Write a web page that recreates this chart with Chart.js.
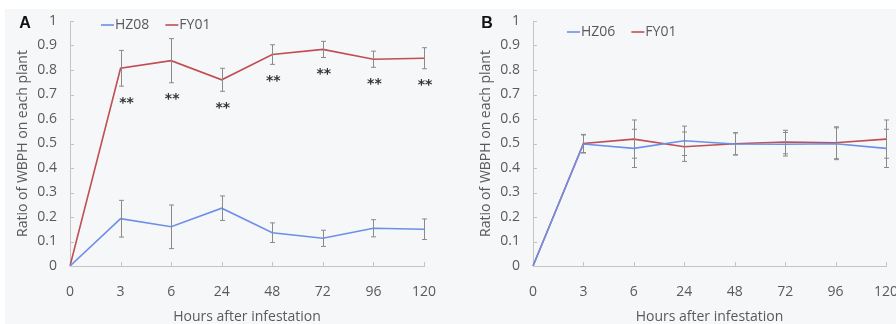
<!DOCTYPE html>
<html>
<head>
<meta charset="utf-8">
<script src="https://cdn.jsdelivr.net/npm/chart.js@4"></script>
<style>
  html, body { margin:0; padding:0; background:#ffffff; }
  body { width:896px; height:324px; position:relative; overflow:hidden; }
  #bg { position:absolute; left:5px; top:9px; width:891px; height:315px; background:#f6f7f9; }
  .wrap { position:absolute; top:0; height:324px; }
  #wa { left:0; width:450px; }
  #wb { left:448px; width:448px; }
</style>
</head>
<body>
<div id="bg"></div>
<div class="wrap" id="wa"><canvas id="ca"></canvas></div>
<div class="wrap" id="wb"><canvas id="cb"></canvas></div>
<script>
// ---- data ----
const hours = ['0', '3', '6', '24', '48', '72', '96', '120'];
const yTicks = [0, 0.1, 0.2, 0.3, 0.4, 0.5, 0.6, 0.7, 0.8, 0.9, 1];

// Panel A
const aSeriesNames = ['HZ08', 'FY01'];
const aHZ08 = [0, 0.193, 0.160, 0.236, 0.136, 0.113, 0.154, 0.150];
const aHZ08Err = [0, 0.075, 0.089, 0.050, 0.040, 0.033, 0.035, 0.042];
const aFY01 = [0, 0.807, 0.838, 0.760, 0.863, 0.884, 0.844, 0.848];
const aFY01Err = [0, 0.073, 0.090, 0.047, 0.040, 0.033, 0.033, 0.043];
const aSignif = ['', '**', '**', '**', '**', '**', '**', '**'];

// Panel B
const bSeriesNames = ['HZ06', 'FY01'];
const bHZ06 = [0, 0.498, 0.480, 0.511, 0.498, 0.497, 0.499, 0.480];
const bHZ06Err = [0, 0.037, 0.078, 0.060, 0.045, 0.048, 0.065, 0.078];
const bFY01 = [0, 0.500, 0.518, 0.487, 0.499, 0.506, 0.503, 0.518];
const bFY01Err = [0, 0.037, 0.078, 0.060, 0.045, 0.048, 0.065, 0.078];
const bSignif = ['', '', '', '', '', '', '', ''];

const yTitle = 'Ratio of WBPH on each plant';
const xTitle = 'Hours after infestation';

// ---- styles ----
const BLUE = '#6d8fe8';
const RED = '#bf4f52';
const AXIS = '#c4c4c4';
const TXT = '#5a5a5a';
const FONT = 'Open Sans';
const FS = 14;

const overlay = {
  id: 'overlay',
  afterDatasetsDraw(chart, args, opts) {
    const ctx = chart.ctx;
    const xs = chart.scales.x, ys = chart.scales.y;
    const area = chart.chartArea;
    ctx.save();
    // inward tick marks
    ctx.strokeStyle = AXIS;
    ctx.lineWidth = 1;
    ctx.beginPath();
    xs.ticks.forEach((t, i) => {
      if (i === 0) return;
      const px = Math.round(xs.getPixelForTick(i)) + 0.5;
      ctx.moveTo(px, area.bottom);
      ctx.lineTo(px, area.bottom - 4);
    });
    ys.ticks.forEach((t, i) => {
      if (i === 0) return;
      const py = Math.round(ys.getPixelForTick(i)) + 0.5;
      ctx.moveTo(area.left, py);
      ctx.lineTo(area.left + 4, py);
    });
    ctx.stroke();
    // error bars
    ctx.strokeStyle = '#8a8a8a';
    ctx.lineWidth = 1;
    chart.data.datasets.forEach(ds => {
      ds.data.forEach((v, i) => {
        const e = ds.errors[i];
        if (!e) return;
        const px = Math.round(xs.getPixelForValue(i)) + 0.5;
        const yt = ys.getPixelForValue(v + e);
        const yb = ys.getPixelForValue(v - e);
        ctx.beginPath();
        ctx.moveTo(px, yt); ctx.lineTo(px, yb);
        ctx.moveTo(px - 2.5, yt); ctx.lineTo(px + 2.5, yt);
        ctx.moveTo(px - 2.5, yb); ctx.lineTo(px + 2.5, yb);
        ctx.stroke();
      });
    });
    // significance marks
    const sigDs = chart.data.datasets[opts.sigDataset];
    ctx.fillStyle = '#333333';
    ctx.font = 'bold 14px "DejaVu Sans"';
    ctx.textAlign = 'center';
    ctx.textBaseline = 'middle';
    opts.signif.forEach((s, i) => {
      if (!s) return;
      const px = xs.getPixelForValue(i);
      const yb = ys.getPixelForValue(sigDs.data[i] - sigDs.errors[i]);
      ctx.fillText(s, px + (i === 1 ? 6 : 1), yb + 17);
    });
    ctx.restore();
  },
  afterDraw(chart, args, opts) {
    const ctx = chart.ctx;
    ctx.save();
    // panel letter
    ctx.fillStyle = '#111111';
    ctx.font = 'bold 16px "Liberation Sans"';
    ctx.textAlign = 'center';
    ctx.textBaseline = 'middle';
    ctx.fillText(opts.letter, opts.letterX, 24);
    // legend
    ctx.font = FS + 'px "' + FONT + '"';
    ctx.textAlign = 'left';
    let x = opts.legendX;
    const y = opts.legendY;
    chart.data.datasets.forEach(ds => {
      ctx.strokeStyle = ds.borderColor;
      ctx.lineWidth = 1.6;
      ctx.beginPath();
      ctx.moveTo(x, y); ctx.lineTo(x + 13, y);
      ctx.stroke();
      ctx.fillStyle = TXT;
      ctx.fillText(ds.label, x + 14, y);
      x += 14 + ctx.measureText(ds.label).width + 16;
    });
    ctx.restore();
  }
};

function makeChart(id, names, s1, e1, s2, e2, signif, cfg) {
  return new Chart(document.getElementById(id), {
    type: 'line',
    data: {
      labels: hours,
      datasets: [
        { label: names[0], data: s1, errors: e1, borderColor: BLUE, backgroundColor: BLUE,
          borderWidth: 1.6, pointRadius: 0, tension: 0 },
        { label: names[1], data: s2, errors: e2, borderColor: RED, backgroundColor: RED,
          borderWidth: 1.6, pointRadius: 0, tension: 0 }
      ]
    },
    options: {
      responsive: true,
      maintainAspectRatio: false,
      animation: false,
      events: [],
      layout: { padding: { left: cfg.padLeft, right: cfg.padRight, top: 21, bottom: 0 } },
      plugins: {
        legend: { display: false },
        tooltip: { enabled: false },
        overlay: { letter: cfg.letter, letterX: cfg.letterX, legendX: cfg.legendX, legendY: cfg.legendY,
                   signif: signif, sigDataset: 1 }
      },
      scales: {
        x: {
          type: 'category',
          offset: false,
          border: { color: AXIS, width: 1 },
          grid: { display: false, drawTicks: false },
          ticks: { color: TXT, font: { family: FONT, size: FS }, padding: 18, maxRotation: 0, autoSkip: false },
          title: { display: true, text: xTitle, color: TXT, font: { family: FONT, size: FS },
                   padding: { top: 0, bottom: -1 } },
          afterFit(s) { s.height = 58; s.paddingLeft = 0; s.paddingRight = 0; }
        },
        y: {
          min: 0, max: 1,
          afterBuildTicks(s) { s.ticks = yTicks.map(v => ({ value: v })); },
          border: { color: AXIS, width: 1 },
          grid: { display: false, drawTicks: false },
          ticks: { color: TXT, font: { family: FONT, size: FS }, padding: 13,
                   callback: v => String(Math.round(v * 10) / 10) },
          title: { display: true, text: yTitle, color: TXT, font: { family: FONT, size: FS },
                   padding: { top: 4, bottom: 0 } },
          afterFit(s) { s.width = cfg.yWidth; s.paddingTop = 0; s.paddingBottom = 0; }
        }
      }
    },
    plugins: [overlay]
  });
}

makeChart('ca', aSeriesNames, aHZ08, aHZ08Err, aFY01, aFY01Err, aSignif,
  { padLeft: 11, padRight: 26, yWidth: 59, letter: 'A', letterX: 25, legendX: 101, legendY: 25 });
makeChart('cb', bSeriesNames, bHZ06, bHZ06Err, bFY01, bFY01Err, bSignif,
  { padLeft: 26, padRight: 10, yWidth: 59, letter: 'B', letterX: 39, legendX: 119, legendY: 32 });
</script>
</body>
</html>
